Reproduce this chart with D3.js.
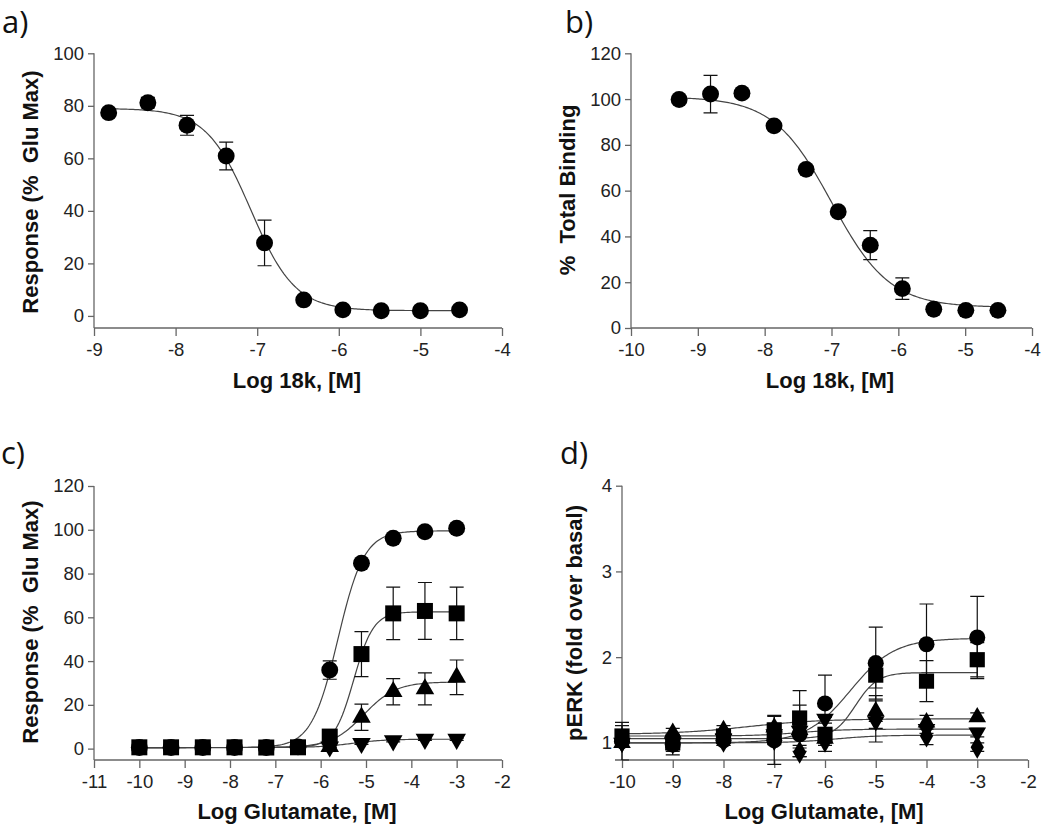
<!DOCTYPE html>
<html>
<head>
<meta charset="utf-8">
<script src="https://cdn.jsdelivr.net/npm/d3@7"></script>
<style>
  html, body { margin: 0; padding: 0; background: #fff; }
  svg { display: block; }
</style>
</head>
<body>
<svg id="chart" width="1050" height="826"></svg>
<script>
// ---------- Panel a data ----------
const xA = [-8.82, -8.34, -7.86, -7.38, -6.91, -6.43, -5.95, -5.48, -5.0, -4.52];
const yA = [77.4, 81.2, 72.6, 60.9, 27.8, 6.1, 2.3, 2.0, 2.0, 2.3];
const eA = [1.0, 2.0, 3.8, 5.3, 8.7, 1.0, 0.5, 0.5, 0.5, 0.5];
const fitA = [79, 2, -7.08, -1.6]; // top, bottom, logIC50, hill
const ticksXA = [-9, -8, -7, -6, -5, -4];
const ticksYA = [0, 20, 40, 60, 80, 100];

// ---------- Panel b data ----------
const xB = [-9.28, -8.81, -8.34, -7.86, -7.38, -6.90, -6.42, -5.94, -5.47, -4.99, -4.51];
const yB = [99.8, 102.2, 102.6, 88.3, 69.3, 50.8, 36.2, 17.2, 8.2, 7.7, 7.7];
const eB = [1.0, 8.2, 1.0, 1.5, 1.5, 1.5, 6.3, 4.7, 1.0, 0.5, 0.5];
const fitB = [101, 9, -7.0, -1.0];
const ticksXB = [-10, -9, -8, -7, -6, -5, -4];
const ticksYB = [0, 20, 40, 60, 80, 100, 120];

// ---------- Panel c data ----------
const xC = [-10, -9.3, -8.6, -7.9, -7.2, -6.5, -5.8, -5.1, -4.4, -3.7, -3.0];
const cCircle = [0.5, 0.5, 0.5, 0.5, 0.5, 0.8, 35.9, 84.7, 96.1, 99.1, 100.7];
const cCircleErr = [0.3, 0.3, 0.3, 0.3, 0.3, 0.3, 4.2, 1.0, 1.0, 0.8, 0.8];
const cSquare = [0.6, 0.6, 0.6, 0.6, 0.5, 0.6, 5.5, 43.2, 61.8, 62.9, 61.8];
const cSquareErr = [0.3, 0.3, 0.3, 0.3, 0.3, 0.3, 1.5, 10.3, 12.0, 13.0, 12.0];
const cTri = [null, null, null, null, null, null, 0.9, 14.3, 26.0, 27.3, 32.6];
const cTriErr = [0, 0, 0, 0, 0, 0, 0.5, 6.0, 6.0, 7.3, 7.9];
const cTriDown = [null, null, null, null, null, null, 0.8, 2.4, 3.6, 4.3, 4.3];
const cTriDownErr = [0, 0, 0, 0, 0, 0, 0.3, 0.5, 0.5, 0.5, 0.5];
const fitCCircle = [99.5, 0.5, -5.62, 1.5];
const fitCSquare = [62.5, 0.5, -5.27, 2.0];
const fitCTri = [30.5, 0.5, -5.05, 1.22];
const fitCTriDown = [4.3, 0.5, -5.3, 1.2];
const ticksXC = [-11, -10, -9, -8, -7, -6, -5, -4, -3, -2];
const ticksYC = [0, 20, 40, 60, 80, 100, 120];

// ---------- Panel d data ----------
const xD = [-10, -9, -8, -7, -6.5, -6, -5, -4, -3];
const dCircle = [1.02, 0.98, 1.03, 1.03, 1.10, 1.46, 1.93, 2.15, 2.23];
const dCircleErr = [0.22, 0.12, 0.06, 0.28, 0.2, 0.33, 0.42, 0.47, 0.48];
const dSquare = [1.08, 1.00, 1.08, 1.15, 1.29, 1.10, 1.79, 1.72, 1.97];
const dSquareErr = [0.12, 0.10, 0.05, 0.17, 0.32, 0.2, 0.15, 0.24, 0.20];
const dTri = [1.00, 1.12, 1.15, 1.18, 1.15, 1.05, 1.37, 1.24, 1.30];
const dTriErr = [0.05, 0.05, 0.05, 0.05, 0.05, 0.05, 0.12, 0.08, 0.05];
const dTriDown = [1.00, 1.00, 1.05, 1.10, 1.14, 1.28, 1.25, 1.16, 1.12];
const dTriDownErr = [0.05, 0.08, 0.05, 0.05, 0.30, 0.05, 0.08, 0.05, 0.05];
const dDiamond = [1.02, 1.00, 1.02, 1.04, 0.89, 1.02, 1.28, 1.08, 0.95];
const dDiamondErr = [0.05, 0.05, 0.05, 0.05, 0.05, 0.05, 0.27, 0.10, 0.05];
const fitDCircle = [2.22, 1.0, -5.5, 1.0];
const fitDSquare = [1.82, 1.05, -5.4, 2.0];
const fitDTri = [1.28, 1.10, -7.5, 0.6];
const fitDTriDown = [1.16, 1.08, -6.5, 1.0];
const fitDDiamond = [1.09, 1.0, -5.8, 1.0];
const ticksXD = [-10, -9, -8, -7, -6, -5, -4, -3, -2];
const ticksYD = [1, 2, 3, 4];

// ---------- drawing ----------
const svg = d3.select("#chart");
const TICKFONT = "'Liberation Sans', Arial, sans-serif";

function logistic(p, x) {
  const [top, bottom, c, h] = p;
  return bottom + (top - bottom) / (1 + Math.pow(10, (c - x) * h));
}

const SYMS = {
  circle: { type: d3.symbolCircle, size: 225, rot: 0 },
  square: { type: d3.symbolSquare, size: 256, rot: 0 },
  tri: { type: d3.symbolTriangle, size: 150, rot: 0 },
  triDown: { type: d3.symbolTriangle, size: 150, rot: 180 },
  diamond: { type: d3.symbolDiamond, size: 170, rot: 0 }
};

function panel(cfg) {
  const g = svg.append("g");
  const x = d3.scaleLinear().domain(cfg.xDomain).range(cfg.xRange);
  const y = d3.scaleLinear().domain(cfg.yDomain).range(cfg.yRange);
  const axisY = cfg.yRange[0];
  const axisX = cfg.xRange[0];

  const ya = g.append("g").attr("transform", `translate(${axisX},0)`)
    .call(d3.axisLeft(y).tickValues(cfg.yTicks).tickSize(6).tickPadding(4).tickFormat(d3.format("d")));
  const xa = g.append("g").attr("transform", `translate(0,${axisY})`)
    .call(d3.axisBottom(x).tickValues(cfg.xTicks).tickSize(8).tickPadding(7).tickFormat(d3.format("d")));
  [ya, xa].forEach(a => {
    a.select(".domain").attr("stroke", "#666").attr("stroke-width", 1.3);
    a.selectAll(".tick line").attr("stroke", "#666").attr("stroke-width", 1.3);
    a.selectAll(".tick text").attr("font-family", TICKFONT).attr("font-size", 18.5).attr("fill", "#222");
  });
  ya.select(".domain").attr("d", `M0,${axisY}V${cfg.yRange[1]}`);
  xa.select(".domain").attr("d", `M${cfg.xRange[0]},0H${cfg.xRange[1]}`);
  xa.selectAll(".tick text").text(d => String(d));

  // curves
  cfg.series.forEach(s => {
    const [x0, x1] = cfg.curveRange;
    const xs = d3.range(0, 201).map(i => x0 + (x1 - x0) * i / 200);
    g.append("path")
      .attr("d", d3.line().x(v => x(v)).y(v => y(logistic(s.fit, v)))(xs))
      .attr("fill", "none").attr("stroke", "#444").attr("stroke-width", 1.2);
  });
  // error bars
  cfg.series.forEach(s => {
    s.y.forEach((v, i) => {
      const e = s.err[i];
      if (v == null || !e) return;
      const cx = x(s.x[i]), yt = y(v + e), yb = y(v - e);
      const p = d3.path();
      p.moveTo(cx, yt); p.lineTo(cx, yb);
      p.moveTo(cx - 7, yt); p.lineTo(cx + 7, yt);
      p.moveTo(cx - 7, yb); p.lineTo(cx + 7, yb);
      g.append("path").attr("d", p.toString()).attr("stroke", "#111").attr("stroke-width", 1.2).attr("fill", "none");
    });
  });
  // markers
  cfg.series.forEach(s => {
    const sym = SYMS[s.shape];
    const sz = sym.size * (cfg.markerScale || 1);
    const pts = s.y.map((v, i) => ({ v, xv: s.x[i] })).filter(d => d.v != null);
    g.selectAll(null).data(pts).enter().append("path")
      .attr("d", d3.symbol().type(sym.type).size(sz)())
      .attr("transform", d => `translate(${x(d.xv)},${y(d.v)}) rotate(${sym.rot})`)
      .attr("fill", "#000");
  });

  // axis labels
  g.append("text").attr("x", cfg.xLabelPos[0]).attr("y", cfg.xLabelPos[1])
    .attr("text-anchor", "middle").attr("font-family", TICKFONT).attr("font-weight", "bold")
    .attr("font-size", 22).attr("fill", "#111").text(cfg.xLabel);
  g.append("text")
    .attr("transform", `translate(${cfg.yLabelPos[0]},${cfg.yLabelPos[1]}) rotate(-90)`)
    .attr("text-anchor", "middle").attr("dominant-baseline", "central")
    .attr("font-family", TICKFONT).attr("font-weight", "bold")
    .attr("font-size", 22).attr("fill", "#111").style("white-space", "pre")
    .text(cfg.yLabel);
  // panel letter
  g.append("text").attr("x", cfg.letterPos[0]).attr("y", cfg.letterPos[1])
    .attr("font-family", "'Open Sans', sans-serif").attr("font-size", 31).attr("fill", "#111")
    .text(cfg.letter);
}

panel({
  letter: "a)", letterPos: [2, 33],
  xDomain: [-9, -4], xRange: [94, 502], yDomain: [-4.6, 100], yRange: [328, 53.3],
  xTicks: ticksXA, yTicks: ticksYA, curveRange: [-8.82, -4.52],
  xLabel: "Log 18k, [M]", xLabelPos: [297, 388],
  yLabel: "Response (%  Glu Max)", yLabelPos: [30, 192],
  series: [{ x: xA, y: yA, err: eA, fit: fitA, shape: "circle" }]
});

panel({
  letter: "b)", letterPos: [565, 33],
  xDomain: [-10, -4], xRange: [631, 1032], yDomain: [0, 120], yRange: [328, 53.3],
  xTicks: ticksXB, yTicks: ticksYB, curveRange: [-9.28, -4.51],
  xLabel: "Log 18k, [M]", xLabelPos: [830, 388],
  yLabel: "%  Total Binding", yLabelPos: [567, 190],
  series: [{ x: xB, y: yB, err: eB, fit: fitB, shape: "circle" }]
});

panel({
  letter: "c)", letterPos: [1, 464],
  xDomain: [-11, -2], xRange: [94, 502], yDomain: [-5.2, 120], yRange: [760, 486],
  xTicks: ticksXC, yTicks: ticksYC, curveRange: [-10, -3],
  xLabel: "Log Glutamate, [M]", xLabelPos: [297, 819],
  yLabel: "Response (%  Glu Max)", yLabelPos: [30, 622],
  series: [
    { x: xC, y: cCircle, err: cCircleErr, fit: fitCCircle, shape: "circle" },
    { x: xC, y: cTriDown, err: cTriDownErr, fit: fitCTriDown, shape: "triDown" },
    { x: xC, y: cTri, err: cTriErr, fit: fitCTri, shape: "tri" },
    { x: xC, y: cSquare, err: cSquareErr, fit: fitCSquare, shape: "square" }
  ]
});

panel({
  letter: "d)", letterPos: [560, 464],
  xDomain: [-10, -2], xRange: [622, 1028], yDomain: [0.8, 4], yRange: [760, 485.7],
  xTicks: ticksXD, yTicks: ticksYD, curveRange: [-10, -3], markerScale: 0.9,
  xLabel: "Log Glutamate, [M]", xLabelPos: [824, 819],
  yLabel: "pERK (fold over basal)", yLabelPos: [574, 623],
  series: [
    { x: xD, y: dCircle, err: dCircleErr, fit: fitDCircle, shape: "circle" },
    { x: xD, y: dTri, err: dTriErr, fit: fitDTri, shape: "tri" },
    { x: xD, y: dTriDown, err: dTriDownErr, fit: fitDTriDown, shape: "triDown" },
    { x: xD, y: dSquare, err: dSquareErr, fit: fitDSquare, shape: "square" },
    { x: xD, y: dDiamond, err: dDiamondErr, fit: fitDDiamond, shape: "diamond" }
  ]
});
</script>
</body>
</html>
